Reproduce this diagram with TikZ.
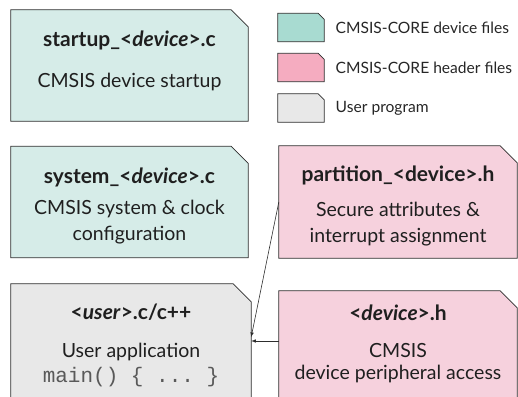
\documentclass[tikz,border=0pt]{standalone}
\usepackage{fontspec}
\setmainfont{Lato}
\setmonofont{Liberation Mono}
\usetikzlibrary{arrows, positioning}
\definecolor{Core-dev}{RGB}{214,236,232}
\definecolor{Core-devkey}{RGB}{168,219,209}
\definecolor{Core-hdr}{RGB}{246,209,221}
\definecolor{Core-hdrkey}{RGB}{245,172,192}
\definecolor{Core-usr}{RGB}{232,232,232}
\definecolor{Core-line}{RGB}{45,45,45}

\begin{document}
\begin{tikzpicture}[x=1pt, y=-1pt]
      \tikzset{ file/.style  ={rectangle, inner sep=0pt                                                                   } }
      \tikzset{ dev/.style   ={file, minimum width=237pt, minimum height=111pt                                            } }
      \tikzset{ hdr/.style   ={file, minimum width=238pt, minimum height=112pt                                            } }
      \tikzset{ usr/.style   ={file, minimum width=240pt, minimum height=126pt                                            } }
      \tikzset{ key/.style   ={file, minimum width=46pt, minimum height=28pt                                              } }
      \tikzset{ edge/.style  ={draw=Core-line, line width=0.8pt                                                           } }
      \tikzset{ legend/.style={font=\fontsize{15.6}{18}\selectfont, text=black!85, xshift=8pt                             } }
      \tikzset{ ttl/.style   ={font=\fontsize{21}{24}\selectfont\bfseries, text=black!88                                  } }
      \tikzset{ txt/.style   ={font=\fontsize{19.5}{26}\selectfont, text=black!88, align=center                           } }
      \tikzset{ arr/.style   ={->, >=latex, draw=Core-line, line width=0.6pt                                             } }

      \clip (0,0) rectangle (518,396);

      % file boxes
      \node[dev] (startup)   at (129.5,  65.5) {};
      \node[dev] (system)    at (129.5, 202.0) {};
      \node[hdr] (partition) at (398.0, 202.0) {};
      \node[usr] (user)      at (131.0, 347.0) {};
      \node[hdr] (device)    at (398.0, 347.0) {};

      % legend swatches
      \node[key, label={[legend]right:CMSIS-CORE device files}] (key-dev) at (301,  27.5) {};
      \node[key, label={[legend]right:CMSIS-CORE header files}] (key-hdr) at (301,  67.5) {};
      \node[key, label={[legend]right:User program}           ] (key-usr) at (301, 108.0) {};

      % outlines with the cut corner
      \foreach \n/\c/\s in {startup/Core-dev/17, system/Core-dev/17, partition/Core-hdr/17, user/Core-usr/18, device/Core-hdr/17,
                             key-dev/Core-devkey/6, key-hdr/Core-hdrkey/6, key-usr/Core-usr/6}
        \draw[edge, fill=\c] (\n.south west) |- ([xshift=-\s pt]\n.north east) -- ([yshift=-\s pt]\n.north east) |- cycle;

      \node[ttl] (startup-ttl)   at (129.5,  40) {startup\_<\textit{device}>.c};
      \node[txt] (startup-txt)   at (129.5,  82) {CMSIS device startup};
      \node[ttl] (system-ttl)    at (129.5, 177) {system\_<\textit{device}>.c};
      \node[txt] (system-txt)    at (129.5, 222) {CMSIS system \& clock\\configuration};
      \node[ttl] (partition-ttl) at (398.0, 175) {partition\_<device>.h};
      \node[txt] (partition-txt) at (398.0, 224) {Secure attributes \&\\interrupt assignment};
      \node[ttl] (user-ttl)      at (131.0, 312) {<\textit{user}>.c/c++};
      \node[txt] (user-txt)      at (131.0, 352) {User application};
      \node[txt] (user-main)     at (131.0, 377) {\fontsize{21}{24}\selectfont\ttfamily\color{black!65}main() \{ ... \}};
      \node[ttl] (device-ttl)    at (398.0, 313) {<\textit{device}>.h};
      \node[txt, font=\fontsize{19.5}{22}\selectfont] (device-txt) at (398.0, 363) {CMSIS\\device peripheral access};

      \draw[arr] (partition.west)           -- ([yshift=10pt]user.east);
      \draw[arr] ([yshift=6pt]device.west)  -- ([yshift=6pt]user.east);
    \end{tikzpicture}
\end{document}
